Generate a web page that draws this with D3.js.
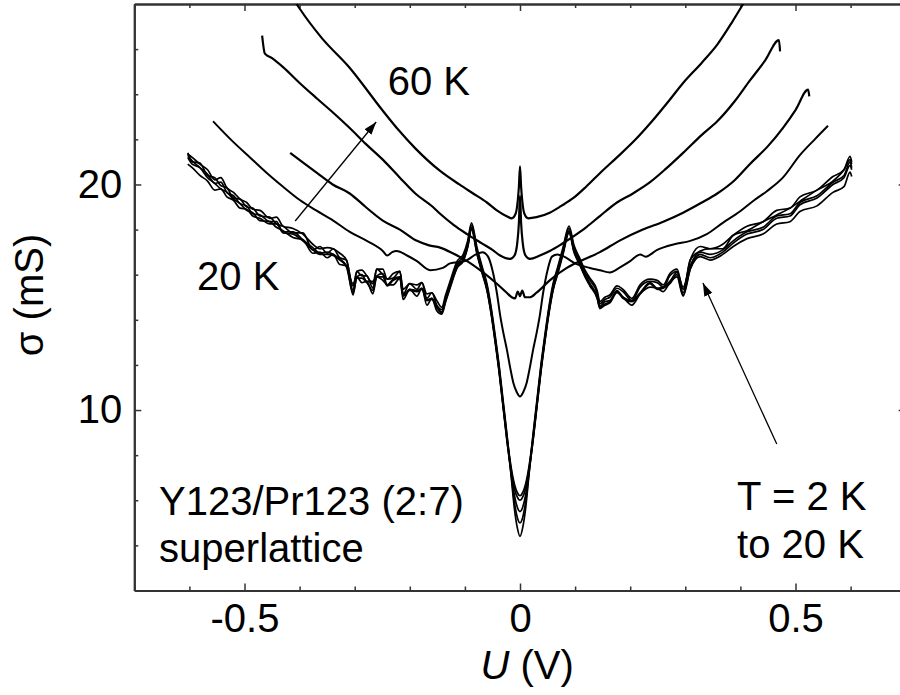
<!DOCTYPE html>
<meta charset="utf-8">
<body style="margin:0; background:#fff">

<!-- Load d3.js -->
<script src="https://d3js.org/d3.v7.min.js"></script>

<!-- Create a div where the graph will take place -->
<div id="my_dataviz"></div>

<script>

    // ---- data: U in V, sigma in mS ----

    // 60 K curve
    var t60U = [-0.43,-0.40,-0.36,-0.31,-0.25,-0.22,-0.19,-0.145,-0.11,-0.085,-0.06,-0.042,-0.025,-0.015,-0.008,-0.004,-0.002,0,0.002,0.004,0.008,0.015,0.03,0.054,0.075,0.097,0.12,0.145,0.176,0.21,0.236,0.27,0.296,0.33,0.358,0.385,0.405,0.43];
    var t60S = [29.0,27.8,26.5,25.2,23.3,22.4,21.6,20.6,20.0,19.6,19.2,18.85,18.6,18.5,18.7,19.3,19.9,20.8,19.9,19.3,18.7,18.5,18.55,18.75,19.05,19.4,19.9,20.5,21.2,22.0,22.7,23.7,24.5,25.4,26.2,27.2,28.0,29.0];

    // second curve (zero bias peak, lower)
    var c2U = [-0.468,-0.463,-0.45,-0.43,-0.40,-0.368,-0.34,-0.309,-0.28,-0.249,-0.218,-0.19,-0.158,-0.145,-0.12,-0.096,-0.07,-0.05,-0.036,-0.018,-0.01,-0.005,-0.002,0,0.002,0.005,0.01,0.018,0.036,0.054,0.075,0.097,0.12,0.145,0.176,0.205,0.236,0.265,0.296,0.33,0.358,0.39,0.417,0.445,0.47,0.472];
    var c2S = [26.6,25.8,25.6,25.2,24.5,23.8,23.2,22.5,21.8,21.1,20.3,19.6,19.0,18.7,18.2,17.8,17.4,17.1,16.85,16.7,16.85,17.4,18.3,19.5,18.3,17.4,16.85,16.7,16.85,17.05,17.35,17.7,18.1,18.6,19.2,19.6,20.1,20.7,21.4,22.2,22.8,23.7,24.6,25.5,26.4,25.9];

    // third curve (flat minimum)
    var c3U = [-0.417,-0.39,-0.368,-0.34,-0.309,-0.28,-0.249,-0.218,-0.187,-0.165,-0.145,-0.122,-0.096,-0.067,-0.042,-0.024,-0.015,-0.009,-0.004,0,0.004,0.009,0.018,0.03,0.054,0.085,0.109,0.145,0.18,0.223,0.26,0.296,0.33,0.358,0.39,0.417,0.45,0.477,0.50,0.523,0.525];
    var c3S = [21.4,20.9,20.5,20.0,19.6,19.0,18.4,18.0,17.5,17.3,17.2,16.95,16.6,16.1,15.6,15.2,15.0,14.95,15.25,15.05,15.3,15.0,15.0,15.2,15.75,16.3,16.6,17.0,17.5,18.0,18.35,18.75,19.2,19.6,20.2,20.9,21.7,22.5,23.3,24.2,23.9];

    // fourth curve (V down to 10.6)
    var c4U = [-0.557,-0.521,-0.49,-0.459,-0.43,-0.399,-0.37,-0.339,-0.309,-0.278,-0.249,-0.241,-0.232,-0.224,-0.205,-0.187,-0.163,-0.14,-0.127,-0.1,-0.08,-0.068,-0.058,-0.05,-0.042,-0.036,-0.03,-0.024,-0.018,-0.012,-0.006,0,0.006,0.012,0.018,0.024,0.03,0.036,0.042,0.05,0.058,0.068,0.08,0.1,0.127,0.145,0.163,0.18,0.2,0.218,0.228,0.249,0.28,0.309,0.339,0.368,0.399,0.425,0.448,0.477,0.508,0.535,0.559];
    var c4S = [22.8,21.9,21.2,20.5,19.9,19.3,18.85,18.4,17.9,17.5,17.05,16.85,17.0,17.05,16.85,16.6,16.2,16.3,16.5,16.6,16.9,17.0,16.8,16.2,15.2,14.2,13.4,12.7,11.9,11.2,10.8,10.6,10.8,11.2,11.9,12.7,13.4,14.2,15.2,16.2,16.8,16.9,16.8,16.5,16.3,16.2,16.1,16.3,16.6,16.9,16.8,17.1,17.35,17.5,17.8,18.3,18.8,19.3,19.7,20.3,21.3,22.0,22.6];

    // low temperature bundle, 2 K to 20 K (shared bias grid)
    var bundleU = [-0.603,-0.595,-0.581,-0.567,-0.554,-0.543,-0.532,-0.52,-0.508,-0.496,
                   -0.485,-0.472,-0.454,-0.442,-0.43,-0.412,-0.394,-0.376,-0.363,-0.35,
                   -0.339,-0.327,-0.315,-0.303,-0.296,-0.287,-0.278,-0.267,-0.26,-0.249,
                   -0.241,-0.23,-0.218,-0.212,-0.2,-0.187,-0.178,-0.169,-0.16,-0.151,
                   -0.142,-0.135,-0.127,-0.114,-0.103,-0.095,-0.088,-0.078,-0.068,-0.06,
                   -0.052,-0.045,-0.038,-0.031,-0.024,-0.017,-0.01,-0.005,0,0.005,
                   0.01,0.017,0.024,0.031,0.038,0.045,0.052,0.06,0.068,0.078,
                   0.089,0.098,0.109,0.118,0.127,0.14,0.145,0.154,0.163,0.176,
                   0.187,0.203,0.218,0.236,0.249,0.26,0.272,0.285,0.296,0.309,
                   0.327,0.345,0.368,0.387,0.412,0.441,0.466,0.49,0.508,0.539,
                   0.568,0.588,0.599,0.602];
    var b1S = [21.4,21.0,20.95,20.4,20.3,19.95,19.85,19.4,19.35,19.0,
               18.95,18.6,18.55,18.25,18.15,17.85,17.85,17.1,17.25,16.95,
               17.15,16.75,16.65,15.3,16.15,15.95,15.95,15.4,16.25,16.0,
               15.8,15.85,16.15,15.15,15.6,15.35,15.65,14.95,15.2,14.65,
               14.45,15.0,15.6,16.5,16.8,17.4,18.2,17.1,16.2,15.5,
               14.4,13.2,11.9,10.4,8.9,7.6,6.7,6.35,6.2,6.35,
               6.7,7.6,8.9,10.4,11.9,13.2,14.4,15.5,16.2,17.1,
               18.05,17.2,16.6,16.1,15.75,15.2,14.7,14.9,15.0,15.4,
               15.25,14.85,15.45,15.7,15.65,15.45,15.95,16.15,15.2,16.65,
               17.05,17.15,17.15,17.75,17.95,18.35,18.65,18.95,19.25,19.75,
               20.15,20.65,21.1,20.9];
    var b2S = [21.3,21.05,20.75,20.45,20.05,20.1,19.65,19.5,19.15,19.05,
               18.7,18.65,18.35,18.35,17.9,17.9,17.55,17.2,16.95,17.0,
               16.9,16.7,16.4,15.6,15.9,16.0,15.7,15.7,15.95,16.05,
               15.55,15.8,15.9,15.1,15.35,15.3,15.4,14.9,14.95,14.6,
               14.35,14.9,15.5,16.4,16.7,17.3,18.1,17.0,16.1,15.4,
               14.3,13.1,11.8,10.3,8.8,7.5,6.5,6.15,6.0,6.15,
               6.5,7.5,8.8,10.3,11.8,13.1,14.3,15.4,16.1,17.0,
               17.95,17.1,16.5,16.0,15.6,15.05,14.6,14.8,14.85,15.3,
               15.0,14.85,15.2,15.65,15.4,15.45,15.7,16.1,15.45,16.4,
               17.0,16.9,17.1,17.5,17.9,18.1,18.6,18.7,19.2,19.5,
               20.1,20.4,21.0,20.75];
    var b3S = [21.2,20.9,20.75,20.3,20.05,19.8,19.65,19.35,19.15,18.85,
               18.75,18.4,18.35,18.1,17.95,17.65,17.55,16.95,17.0,16.75,
               16.9,16.45,16.4,15.1,15.9,15.65,15.7,15.15,15.9,15.75,
               15.55,15.55,15.85,14.9,15.35,15.05,15.4,14.65,14.95,14.4,
               14.25,14.8,15.4,16.3,16.6,17.2,18.0,16.9,16.0,15.3,
               14.2,13.0,11.7,10.2,8.7,7.4,6.2,5.7,5.5,5.7,
               6.2,7.4,8.7,10.2,11.7,13.0,14.2,15.3,16.0,16.9,
               17.85,17.0,16.4,15.9,15.5,14.95,14.5,14.65,14.75,15.2,
               15.0,14.65,15.15,15.45,15.4,15.25,15.65,15.9,15.05,16.25,
               16.9,16.75,17.0,17.4,17.8,18.0,18.5,18.6,19.1,19.4,
               20.0,20.3,20.85,20.65];
    var b4S = [21.35,21.2,20.9,20.65,20.2,20.3,19.85,19.65,19.35,19.2,
               18.9,18.85,18.5,18.55,18.15,18.05,17.8,17.35,17.15,17.2,
               17.15,16.95,16.65,15.5,16.15,16.2,15.95,15.6,16.25,16.25,
               15.8,16.05,16.15,15.35,15.6,15.55,15.65,15.15,15.2,14.85,
               14.55,15.1,15.7,16.6,16.9,17.5,18.3,17.2,16.3,15.6,
               14.5,13.3,12.0,10.5,9.0,7.35,5.9,5.25,5.0,5.25,
               5.9,7.35,9.0,10.5,12.0,13.3,14.5,15.6,16.3,17.2,
               18.15,17.3,16.7,16.2,15.85,15.3,14.8,15.0,15.1,15.5,
               15.35,14.95,15.55,15.8,15.75,15.55,16.05,16.25,15.35,16.65,
               17.25,17.15,17.35,17.75,18.15,18.35,18.85,18.95,19.45,19.75,
               20.35,20.65,21.25,21.0];
    var b5S = [20.9,20.75,20.4,20.15,19.75,19.8,19.45,19.3,18.95,18.9,
               18.6,18.5,18.25,18.25,17.85,17.8,17.5,17.1,16.9,16.9,
               16.85,16.65,16.35,15.2,15.85,15.85,15.65,15.3,15.9,15.9,
               15.5,15.75,15.85,15.05,15.3,15.25,15.35,14.85,14.9,14.55,
               14.3,14.85,15.45,16.35,16.65,17.25,18.05,16.95,16.05,15.35,
               14.25,13.05,11.75,10.25,8.75,7.3,5.6,4.8,4.4,4.8,
               5.6,7.3,8.75,10.25,11.75,13.05,14.25,15.35,16.05,16.95,
               17.9,17.05,16.45,15.95,15.55,15.0,14.55,14.7,14.8,15.25,
               14.95,14.8,15.15,15.6,15.35,15.4,15.6,16.0,15.1,16.25,
               16.8,16.65,16.9,17.25,17.6,17.8,18.25,18.35,18.8,19.05,
               19.65,19.9,20.55,20.35];

    // ticks
    var xMajor = [-0.5, 0, 0.5];
    var xTickLabels = ["-0.5", "0", "0.5"];
    var xMinor = [-0.7,-0.6,-0.4,-0.3,-0.2,-0.1,0.1,0.2,0.3,0.4,0.6,0.7];
    var yMajor = [10, 20];
    var yTickLabels = ["10", "20"];
    var yMinor = [4,6,8,12,14,16,18,22,24,26];

    // ---- layout ----
    var margin = {top: 4, left: 134.3},
        width = 771.4,
        height = 586.5;
    var font = "'Liberation Sans', Arial, Helvetica, sans-serif";

    var svg = d3.select("#my_dataviz")
        .append("svg")
            .attr("width", 900)
            .attr("height", 695)
        .append("g")
            .attr("transform", "translate(" + margin.left + "," + margin.top + ")");

    var x = d3.scaleLinear().domain([-0.7, 0.7]).range([0, width]);
    var y = d3.scaleLinear().domain([2, 28]).range([height, 0]);

    svg.append("clipPath").attr("id", "clip")
        .append("rect").attr("width", width).attr("height", height);

    // axes, ticks pointing inside
    function styleAxis(g) {
        g.select(".domain").attr("stroke", "#333").attr("stroke-width", 2);
        g.selectAll(".tick line").attr("stroke", "#333").attr("stroke-width", 1.5);
        g.selectAll("text").attr("font-size", 40).attr("font-family", font).attr("fill", "#000");
    }

    svg.append("g")
        .attr("transform", "translate(0," + height + ")")
        .call(d3.axisBottom(x).tickValues(xMajor).tickSize(-7).tickSizeOuter(0).tickPadding(13)
            .tickFormat(function(d, i) { return xTickLabels[i]; }))
        .call(styleAxis);
    svg.append("g")
        .attr("transform", "translate(0," + height + ")")
        .call(d3.axisBottom(x).tickValues(xMinor).tickSize(-4).tickSizeOuter(0).tickFormat(""))
        .call(styleAxis);
    svg.append("g")
        .call(d3.axisTop(x).tickValues(xMajor).tickSize(-7).tickSizeOuter(0).tickFormat(""))
        .call(styleAxis);
    svg.append("g")
        .call(d3.axisTop(x).tickValues(xMinor).tickSize(-4).tickSizeOuter(0).tickFormat(""))
        .call(styleAxis);
    svg.append("g")
        .call(d3.axisLeft(y).tickValues(yMajor).tickSize(-7).tickSizeOuter(0).tickPadding(12)
            .tickFormat(function(d, i) { return yTickLabels[i]; }))
        .call(styleAxis);
    svg.append("g")
        .call(d3.axisLeft(y).tickValues(yMinor).tickSize(-4).tickSizeOuter(0).tickFormat(""))
        .call(styleAxis);
    svg.append("g")
        .attr("transform", "translate(" + width + ",0)")
        .call(d3.axisRight(y).tickValues(yMajor).tickSize(-7).tickSizeOuter(0).tickFormat(""))
        .call(styleAxis);

    // curves
    var line = d3.line()
        .x(function(d) { return x(d[0]); })
        .y(function(d) { return y(d[1]); })
        .curve(d3.curveMonotoneX);

    var curves = [
        {u: t60U, s: t60S, w: 2.2},
        {u: c2U, s: c2S, w: 2.2},
        {u: c3U, s: c3S, w: 2.2},
        {u: c4U, s: c4S, w: 2.0},
        {u: bundleU, s: b1S, w: 1.7},
        {u: bundleU, s: b2S, w: 1.7},
        {u: bundleU, s: b3S, w: 1.7},
        {u: bundleU, s: b4S, w: 1.7},
        {u: bundleU, s: b5S, w: 1.7}
    ];

    svg.append("g").attr("clip-path", "url(#clip)")
      .selectAll("path")
      .data(curves)
      .enter()
      .append("path")
        .attr("d", function(c) { return line(d3.zip(c.u, c.s)); })
        .attr("fill", "none")
        .attr("stroke", "#000")
        .attr("stroke-width", function(c) { return c.w; })
        .attr("stroke-linejoin", "round");

    // arrows
    svg.append("defs").append("marker")
        .attr("id", "head")
        .attr("viewBox", "0 0 10 10")
        .attr("refX", 10).attr("refY", 5)
        .attr("markerUnits", "userSpaceOnUse")
        .attr("markerWidth", 13).attr("markerHeight", 13)
        .attr("orient", "auto")
      .append("path")
        .attr("d", "M0,1.6L10,5L0,8.4Z")
        .attr("fill", "#000");

    svg.append("line")
        .attr("x1", x(-0.408)).attr("y1", y(18.38))
        .attr("x2", x(-0.261)).attr("y2", y(22.77))
        .attr("stroke", "#000").attr("stroke-width", 1.3)
        .attr("marker-end", "url(#head)");
    svg.append("line")
        .attr("x1", x(0.466)).attr("y1", y(8.49))
        .attr("x2", x(0.332)).attr("y2", y(15.63))
        .attr("stroke", "#000").attr("stroke-width", 1.3)
        .attr("marker-end", "url(#head)");

    // annotations
    function note(u, s, txt) {
        svg.append("text")
            .attr("x", x(u)).attr("y", y(s))
            .attr("font-family", font).attr("font-size", 40)
            .text(txt);
    }
    note(-0.24, 23.97, "60 K");
    note(-0.586, 15.32, "20 K");
    note(-0.655, 5.35, "Y123/Pr123 (2:7)");
    note(-0.655, 3.27, "superlattice");
    note(0.394, 5.57, "T = 2 K");
    note(0.394, 3.44, "to 20 K");

    // axis titles
    var xt = svg.append("text")
        .attr("x", x(0.013)).attr("y", 675)
        .attr("text-anchor", "middle")
        .attr("font-family", font).attr("font-size", 40);
    xt.append("tspan").attr("font-style", "italic").text("U");
    xt.append("tspan").text(" (V)");

    svg.append("text")
        .attr("transform", "rotate(-90)")
        .attr("x", -(295 - margin.top))
        .attr("y", 43 - margin.left)
        .attr("text-anchor", "middle")
        .attr("font-family", font).attr("font-size", 40)
        .text("σ (mS)");

</script>

</body>
